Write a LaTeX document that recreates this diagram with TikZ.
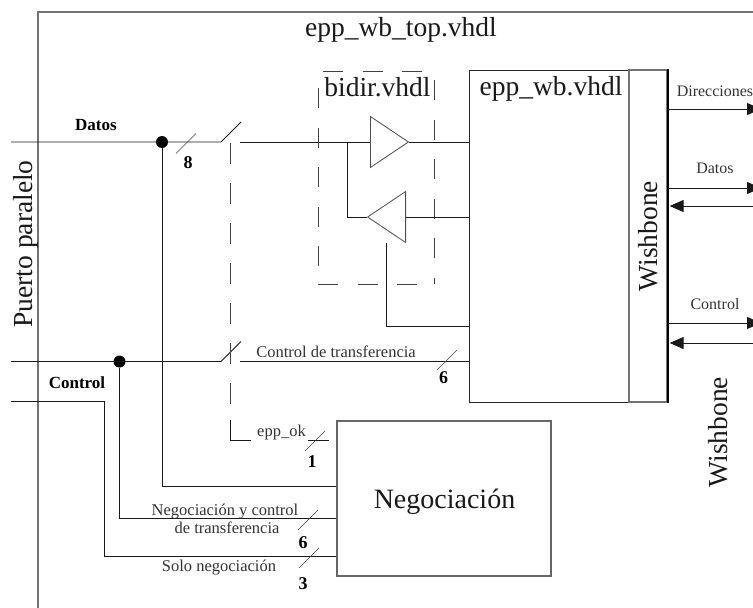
\documentclass[tikz,border=0pt]{standalone}
\usepackage{fontspec}
\setmainfont{Liberation Serif}
\usetikzlibrary{arrows.meta,shapes.geometric}
\begin{document}
\begin{tikzpicture}[x=1pt, y=-1pt, >={Triangle[length=14pt,width=12pt]},
        wire/.style={line width=0.9pt, black!90},
        frameline/.style={line width=1.6pt, black!55},
        dashline/.style={line width=0.8pt, black!75, dash pattern=on 20pt off 19.5pt},
        thinbar/.style={line width=0.6pt, black!75},
        bigtxt/.style={anchor=base, inner sep=0pt, black!90, font=\fontsize{27.5}{30}\selectfont},
        smalltxt/.style={anchor=base, inner sep=0pt, black!80, font=\fontsize{16.5}{18}\selectfont},
        sigtxt/.style={anchor=base, inner sep=0pt, font=\fontsize{17}{18}\selectfont\bfseries},
        bitnum/.style={anchor=base, inner sep=0pt, font=\fontsize{18}{18}\selectfont\bfseries},
        joint/.style={circle, fill=black, inner sep=0pt, minimum size=12pt},
        buffer/.style={isosceles triangle, isosceles triangle stretches, draw=black!70, line width=0.8pt,
            inner sep=0pt, minimum width=51pt, minimum height=38pt, anchor=lower side}]
    \useasboundingbox (0,0) rectangle (753,608);
    \coordinate (frameb) at (38,608);
    \coordinate (framec) at (38,12);
    \coordinate (framer) at (753,12);
    \draw[frameline] (frameb) -- (framec) -- (framer);
    \node[bigtxt] (toptxt) at (401,36) {epp\_wb\_top.vhdl};
    \node[bigtxt] (bidirtxt) at (377.5,96) {bidir.vhdl};
    \node[bigtxt, rotate=90] (portxt) at (32,244) {Puerto paralelo};
    \node[bigtxt, rotate=90] (wbouttxt) at (727,432) {Wishbone};

    \node[draw=black!85, line width=1pt, minimum width=198pt, minimum height=332pt, inner sep=0pt] (eppwb) at (568,236) {};
    \node[draw=black!55, line width=1.3pt, minimum width=38pt, minimum height=332pt, inner sep=0pt] (wbpart) at (648,236) {};
    \draw[black, line width=1.8pt] (wbpart.north east) -- (wbpart.south east);
    \node[bigtxt] (eppwbtxt) at (551,95) {epp\_wb.vhdl};
    \node[bigtxt, rotate=90] (wbtxt) at (657,236) {Wishbone};
    \node[draw=black!60, line width=1.6pt, minimum width=214pt, minimum height=155pt, inner sep=0pt] (nego) at (444,498.5) {};
    \node[bigtxt, font=\fontsize{28}{30}\selectfont] (negotxt) at (444.5,508) {Negociación};

    \node[buffer] (bufa) at (370,142) {};
    \node[buffer, shape border rotate=180] (bufb) at (406,217) {};

    \coordinate (dbtl) at (318,71);
    \coordinate (dbtr) at (434,71);
    \coordinate (dbbl) at (318,284);
    \coordinate (dbbr) at (434,284);
    \draw[dashline, dash phase=-5pt] (dbtl) -- (dbtr);
    \draw[dashline, dash phase=-17pt] (dbtl) -- (dbbl);
    \draw[dashline, dash phase=-9pt] (dbtr) -- (dbbr);
    \draw[dashline] (dbbl) -- (dbbr);

    \coordinate (datin) at (11,142);
    \coordinate (swaa) at (221,142);
    \coordinate (swab) at (241,122);
    \coordinate (swac) at (240,142);
    \node[joint] (datdot) at (162,142) {};
    \draw[wire] (datin) -- (swaa) -- (swab);
    \draw[wire] (swac) -- (bufa.lower side);
    \draw[wire] (bufa.apex) -- (bufa.apex -| eppwb.west);
    \draw[wire] (bufb.lower side) -- (bufb.lower side -| eppwb.west);
    \coordinate (bufsplit) at (347,142);
    \draw[wire] (bufsplit) -- (bufsplit |- bufb.apex) -- (bufb.apex);
    \coordinate (enbufb) at (386.5,243);
    \coordinate (enbufc) at (386.5,326);
    \draw[wire] (enbufb) -- (enbufc) -- (enbufc -| eppwb.west);
    \draw[wire] (datdot) -- (datdot |- 0,486.5) -- (datdot |- 0,486.5 -| nego.west);

    \coordinate (ctlin) at (11,361.5);
    \coordinate (swba) at (221,361.5);
    \coordinate (swbb) at (241,341.5);
    \coordinate (swbc) at (240,361.5);
    \node[joint] (ctldot) at (119.5,361.5) {};
    \draw[wire] (ctlin) -- (swba) -- (swbb);
    \draw[wire] (swbc) -- (swbc -| eppwb.west);
    \draw[wire] (ctldot) -- (ctldot |- 0,518) -- (ctldot |- 0,518 -| nego.west);
    \coordinate (negin) at (11,401.5);
    \coordinate (negia) at (104,401.5);
    \coordinate (negib) at (104,556.5);
    \draw[wire] (negin) -- (negia) -- (negib) -- (negib -| nego.west);

    \coordinate (okin) at (230,420);
    \coordinate (oka) at (230,440);
    \coordinate (okb) at (251,440);
    \coordinate (okc) at (308,440);
    \coordinate (okd) at (329,440);
    \draw[wire] (okin) -- (oka) -- (okb);
    \draw[wire] (okc) -- (okd);
    \coordinate (ganga) at (230,143);
    \draw[dashline, dash pattern=on 20.5pt off 19.5pt] (ganga) -- (okin);

    \foreach \nm/\px/\py/\lx/\ly/\t in {a/186/143.5/188/168/8, b/447/360/443.5/383/6, c/315/441/312/467/1, d/308/520/303/548/6, e/309/558/303/589/3} {
        \draw[thinbar] (\px-10,\py+10) -- (\px+10,\py-10);
        \node[bitnum] (bit\nm) at (\lx,\ly) {\t};
    }

    \node[sigtxt] (dattxt) at (96,130) {Datos};
    \node[sigtxt] (ctltxt) at (77,388) {Control};
    \node[smalltxt] (transftxt) at (336,357) {Control de transferencia};
    \node[smalltxt] (oktxt) at (281.5,436) {epp\_ok};
    \node[smalltxt] (negatxt) at (225,515) {Negociación y control};
    \node[smalltxt] (negbtxt) at (227,533) {de transferencia};
    \node[smalltxt] (soltxt) at (219,571) {Solo negociación};

    \coordinate (dirout) at (761,109);
    \coordinate (datout) at (761,188);
    \coordinate (datret) at (753,206);
    \coordinate (ctlout) at (761,323);
    \coordinate (ctlret) at (753,343);
    \draw[wire, ->] (dirout -| wbpart.east) -- (dirout);
    \draw[wire, ->] (datout -| wbpart.east) -- (datout);
    \draw[wire, ->, shorten >=2pt] (datret) -- (datret -| wbpart.east);
    \draw[wire, ->] (ctlout -| wbpart.east) -- (ctlout);
    \draw[wire, ->, shorten >=2pt] (ctlret) -- (ctlret -| wbpart.east);
    \node[smalltxt, font=\fontsize{16}{18}\selectfont] (dirtxt) at (715,96) {Direcciones};
    \node[smalltxt, font=\fontsize{16}{18}\selectfont] (dattxtb) at (715,173) {Datos};
    \node[smalltxt, font=\fontsize{16}{18}\selectfont] (ctltxtb) at (715,309) {Control};
\end{tikzpicture}
\end{document}
